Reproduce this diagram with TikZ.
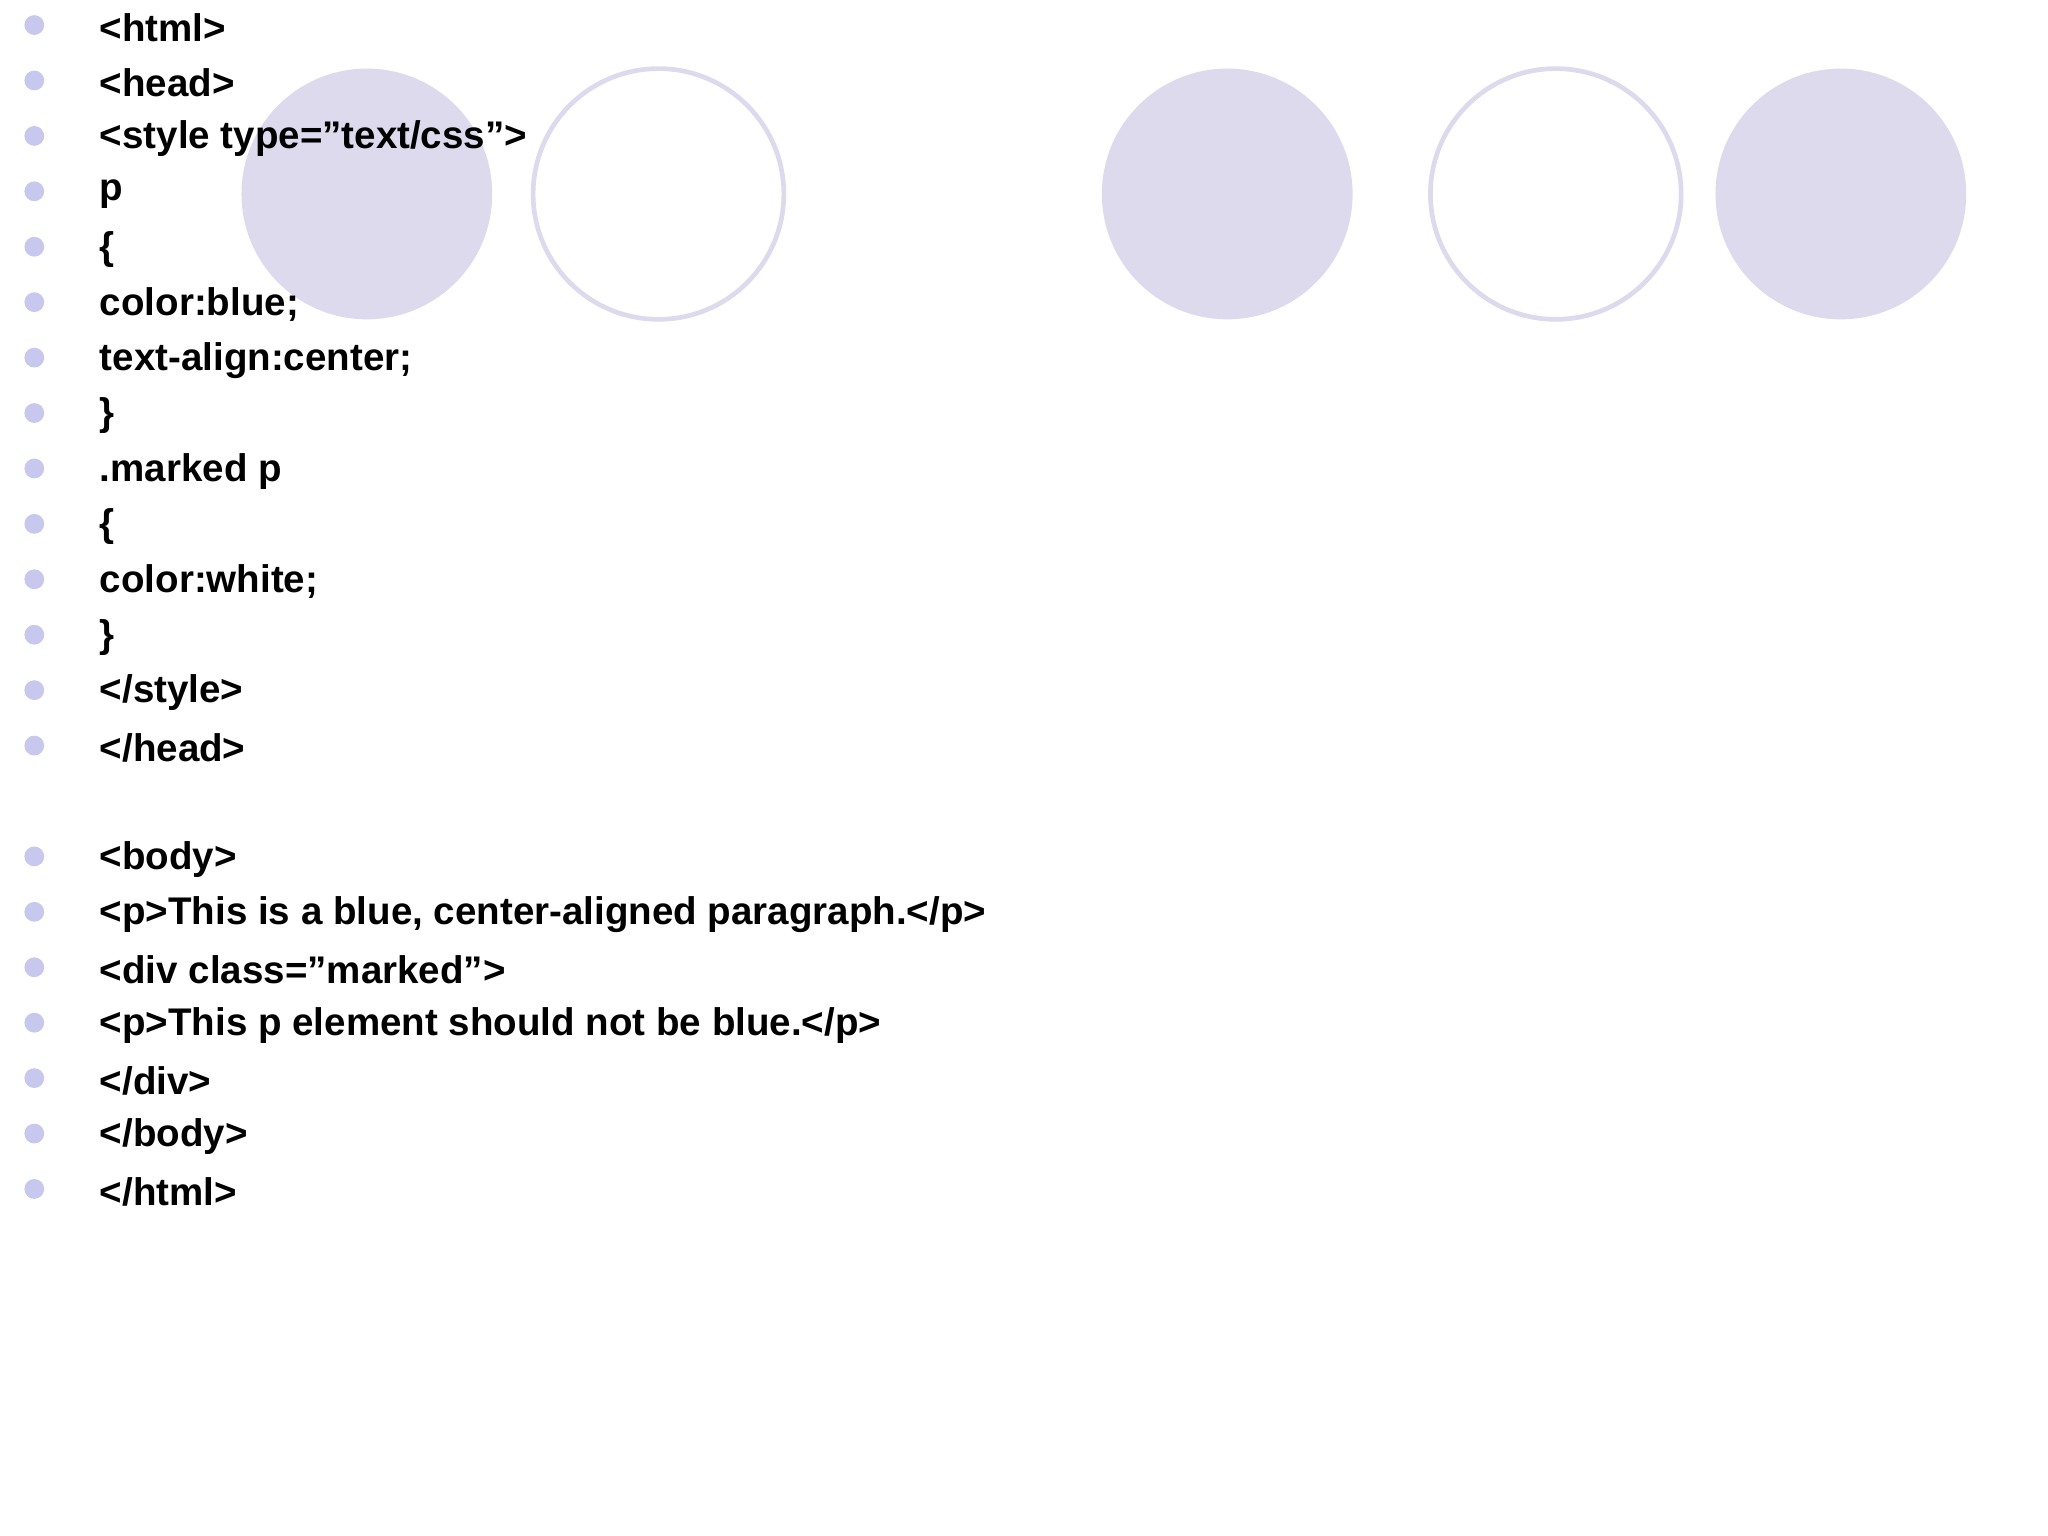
\documentclass[tikz,border=0pt]{standalone}
\usepackage{fontspec}
\setmainfont{Liberation Sans}
\definecolor{circ}{HTML}{DCDAEC}
\definecolor{bul}{HTML}{C8C8EE}
\begin{document}
\begin{tikzpicture}[x=0.01cm,y=-0.01cm,
  fc/.style={fill=circ,draw=none},
  oc/.style={draw=circ,line width=1pt,fill=white},
  bulletdot/.style={circle,fill=bul,inner sep=0pt,minimum size=0.15cm},
  codeline/.style={anchor=west,inner sep=0pt,font=\fontsize{8.3}{10}\selectfont\bfseries}]
\useasboundingbox[fill=white] (0,0) rectangle (1552,1164);
\fill[fc] (278,147) circle (95);
\draw[oc] (499,147) circle (95);
\fill[fc] (930,147) circle (95);
\draw[oc] (1179,147) circle (95);
\fill[fc] (1395,147) circle (95);
\foreach \t [count=\i] in {{<html>},{<head>},{<style type="text/css">},{p},{\{},{color:blue;},{text-align:center;},{\}},{.marked p},{\{},{color:white;},{\}},{</style>},{</head>}}{
  \node[bulletdot] (b\i) at (26,{21+42*(\i-1)-2}) {};
  \node[codeline] (t\i) at (75,{21+42*(\i-1)}) {\t};
}
\foreach \t [count=\i] in {{<body>},{<p>This is a blue, center-aligned paragraph.</p>},{<div class="marked">},{<p>This p element should not be blue.</p>},{</div>},{</body>},{</html>}}{
  \node[bulletdot] (c\i) at (26,{651+42*(\i-1)-2}) {};
  \node[codeline] (u\i) at (75,{651+42*(\i-1)}) {\t};
}
\end{tikzpicture}
\end{document}
